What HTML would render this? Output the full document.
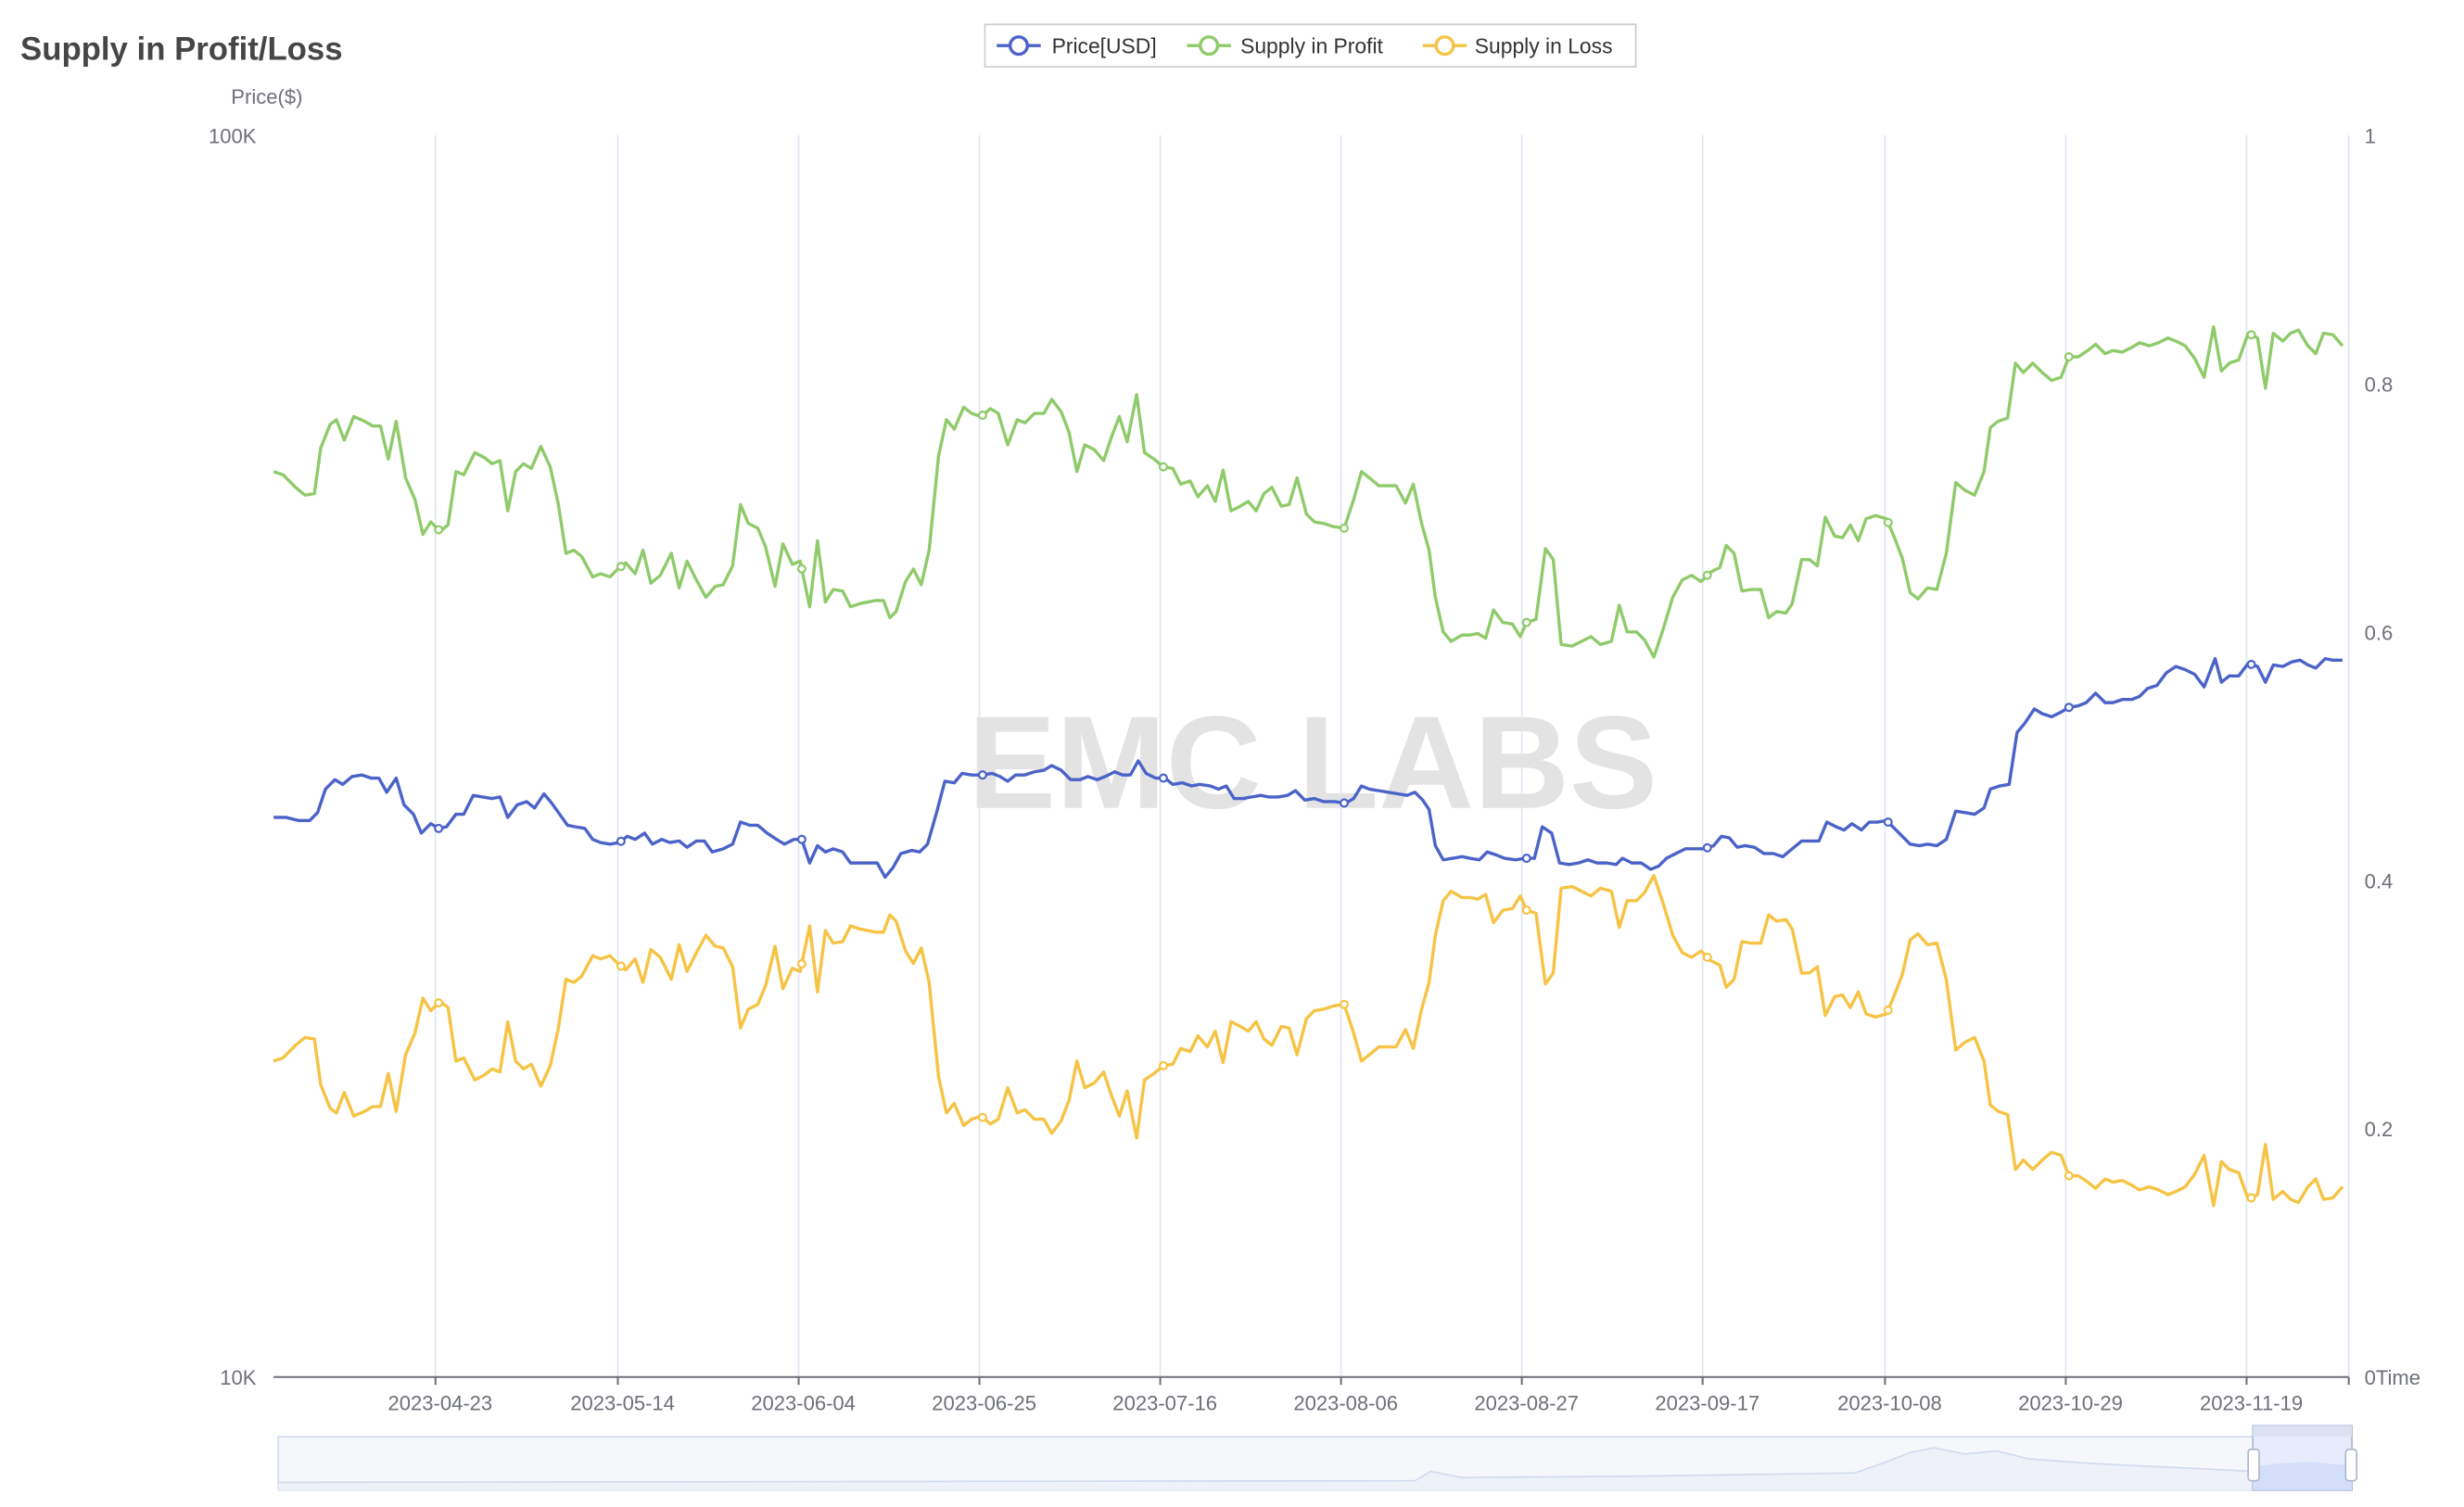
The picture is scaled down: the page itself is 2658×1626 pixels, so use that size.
<!DOCTYPE html>
<html><head><meta charset="utf-8"><style>
html,body{margin:0;padding:0;background:#fff;}
svg{display:block;font-family:"Liberation Sans",sans-serif;}
</style></head><body>
<svg id="s" width="2658" height="1626" viewBox="0 0 1567.3 958.7" preserveAspectRatio="none" xmlns="http://www.w3.org/2000/svg">
<rect width="1570" height="960" fill="#fff"/>
<text x="13" y="38" font-size="20.5" font-weight="bold" fill="#464646">Supply in Profit/Loss</text>
<text x="147" y="66" font-size="13" fill="#6e7079">Price($)</text>
<text x="163" y="91" font-size="13" fill="#6e7079" text-anchor="end">100K</text>
<text x="163" y="881" font-size="13" fill="#6e7079" text-anchor="end">10K</text>
<g font-size="13" fill="#6e7079">
<text x="1504" y="91">1</text><text x="1504" y="249">0.8</text><text x="1504" y="407">0.6</text>
<text x="1504" y="565">0.4</text><text x="1504" y="723">0.2</text><text x="1504" y="881">0Time</text>
</g>
<g id="grid" stroke="#e0e6f1" stroke-width="1"></g>
<text x="835" y="514" font-size="84" font-weight="bold" fill="#e3e3e3" text-anchor="middle">EMC LABS</text>
<line x1="174" y1="876" x2="1494" y2="876" stroke="#6e7079" stroke-width="1.2"/>
<g id="ticks" stroke="#6e7079" stroke-width="1.2"></g>
<g id="dl" font-size="13" fill="#6e7079" text-anchor="middle"></g>
<g id="series" fill="none" stroke-width="2" stroke-linejoin="round"></g>
<rect x="626.5" y="15.5" width="414" height="27" fill="#fff" stroke="#ccc"/>
<g stroke-width="2" fill="#fff">
<line x1="634" y1="29" x2="662" y2="29" stroke="#4b63c8"/><circle cx="648" cy="29" r="5.5" stroke="#4b63c8"/>
<line x1="755" y1="29" x2="783" y2="29" stroke="#8fcb6a"/><circle cx="769" cy="29" r="5.5" stroke="#8fcb6a"/>
<line x1="905" y1="29" x2="933" y2="29" stroke="#f6c344"/><circle cx="919" cy="29" r="5.5" stroke="#f6c344"/>
</g>
<g font-size="13.5" fill="#333">
<text x="669" y="34">Price[USD]</text><text x="789" y="34">Supply in Profit</text><text x="938" y="34">Supply in Loss</text>
</g>
<rect x="177" y="914" width="1319" height="34" fill="#f6f7fb" stroke="#d2dbee"/>
<path d="M177 943 L900 942 L910 936 L930 940 L1050 939 L1180 937 L1200 930 L1215 924 L1230 921 L1250 925 L1270 923 L1290 928 L1330 931 L1433 936 L1433 948 L177 948Z" fill="#eef1f8"/>
<path d="M177 943 L900 942 L910 936 L930 940 L1050 939 L1180 937 L1200 930 L1215 924 L1230 921 L1250 925 L1270 923 L1290 928 L1330 931 L1433 936" fill="none" stroke="#d2dbee"/>
<rect x="1433" y="907" width="63" height="41" fill="#e6ecfb" stroke="#acb8d1"/>
<rect x="1433" y="907" width="63" height="7" fill="#dbe2f2"/>
<path d="M1433 933 L1450 931 L1470 930 L1490 932 L1496 928 L1496 948 L1433 948Z" fill="#d3def8"/>
<rect x="1430" y="922" width="7" height="20" rx="2" fill="#fff" stroke="#acb8d1"/>
<rect x="1492" y="922" width="7" height="20" rx="2" fill="#fff" stroke="#acb8d1"/>
</svg>
<script>
const NS="http://www.w3.org/2000/svg";
function el(p,t,a){const e=document.createElementNS(NS,t);for(const k in a)e.setAttribute(k,a[k]);document.getElementById(p).appendChild(e);return e;}
const dates=[[277,"2023-04-23"],[393,"2023-05-14"],[508,"2023-06-04"],[623,"2023-06-25"],[738,"2023-07-16"],[853,"2023-08-06"],[968,"2023-08-27"],[1083,"2023-09-17"],[1199,"2023-10-08"],[1314,"2023-10-29"],[1429,"2023-11-19"],[1494,""]];
dates.forEach(d=>{el("grid","line",{x1:d[0],y1:86,x2:d[0],y2:876});el("ticks","line",{x1:d[0],y1:876,x2:d[0],y2:881});if(d[1]){const t=el("dl","text",{x:d[0]+3,y:897});t.textContent=d[1];}});
const g=[174,300,180,302,188,310,194,315,200,314,204,285,210,270,214,267,219,280,225,265,232,268,237,271,242,271,247,292,252,268,258,304,264,318,269,340,274,332,280,338,285,334,290,300,295,302,302,288,308,291,313,295,318,293,323,325,328,300,333,295,338,298,344,284,350,297,355,320,360,352,365,350,370,354,377,367,382,365,388,367,393,362,398,358,404,365,409,350,414,371,420,366,427,352,432,374,437,357,443,369,449,380,455,373,460,372,466,360,471,321,476,333,482,336,487,348,493,373,498,346,504,359,509,357,515,386,520,344,525,383,530,375,536,376,541,386,547,384,552,383,557,382,562,382,566,393,570,389,576,370,581,362,586,372,591,350,597,290,602,267,607,273,613,259,618,263,624,265,630,260,635,263,641,283,647,267,652,269,658,263,664,263,669,254,675,262,680,275,685,300,690,283,696,286,702,293,707,278,712,265,717,281,723,251,728,288,734,292,740,297,746,298,751,308,757,306,762,316,768,309,773,319,778,299,783,325,789,322,794,319,799,325,804,314,809,310,815,322,820,321,825,304,831,327,836,332,842,333,848,335,855,336,861,318,866,300,871,304,877,309,882,309,888,309,894,320,899,308,904,332,909,350,913,380,918,402,923,408,930,404,935,404,940,403,945,406,950,388,956,396,962,397,967,405,971,396,977,394,983,349,988,356,993,410,1000,411,1006,408,1012,405,1018,410,1025,408,1030,385,1035,402,1041,402,1046,407,1052,418,1058,400,1064,380,1070,369,1076,366,1082,370,1088,364,1094,361,1098,347,1103,352,1108,376,1114,375,1120,375,1125,393,1130,389,1136,390,1140,384,1146,356,1151,356,1156,360,1161,329,1167,341,1172,342,1177,334,1182,344,1187,330,1193,328,1200,330,1205,342,1210,355,1215,377,1220,381,1226,374,1232,375,1238,352,1244,307,1250,312,1256,315,1262,300,1266,272,1271,268,1277,266,1282,231,1287,237,1293,231,1299,237,1305,242,1311,240,1316,227,1322,227,1328,223,1333,219,1339,225,1344,223,1350,224,1356,221,1361,218,1367,220,1373,218,1379,215,1384,217,1390,220,1396,228,1402,240,1408,208,1413,236,1418,231,1424,229,1430,212,1436,215,1441,247,1446,212,1452,217,1457,212,1462,210,1468,220,1473,225,1478,212,1484,213,1490,220];
const b=[174,520,182,520,190,522,197,522,202,517,207,502,213,496,218,499,224,494,230,493,236,495,241,495,246,504,252,495,257,512,263,518,268,530,274,524,279,527,284,526,290,518,295,518,301,506,307,507,313,508,318,507,323,520,329,512,335,510,340,514,346,505,351,511,356,518,361,525,366,526,372,527,377,534,382,536,388,537,394,536,399,532,404,534,410,530,415,537,421,534,426,536,432,535,437,539,443,535,448,535,453,542,460,540,466,537,471,523,477,525,482,525,488,530,494,534,499,537,505,534,510,534,515,549,520,538,525,542,530,540,536,542,541,549,547,549,553,549,558,549,563,558,568,552,573,543,580,541,585,542,590,537,596,516,601,497,607,498,612,492,618,493,625,493,631,492,636,494,641,497,646,493,652,493,658,491,664,490,669,487,675,490,681,496,687,496,692,494,698,496,703,494,709,491,714,493,719,493,724,484,729,492,735,495,741,495,746,499,752,498,758,500,763,499,770,500,775,502,780,500,785,508,791,508,796,507,802,506,807,507,813,507,819,506,824,503,830,509,836,508,842,510,849,510,856,511,861,508,866,500,871,502,877,503,883,504,889,505,895,506,900,504,905,509,909,515,913,538,918,547,924,546,930,545,935,546,941,547,946,542,952,544,957,546,964,547,970,546,976,546,981,526,987,530,992,549,998,550,1004,549,1010,547,1016,549,1022,549,1028,550,1032,546,1038,549,1044,549,1050,553,1055,551,1060,546,1066,543,1072,540,1078,540,1084,540,1090,538,1095,532,1100,533,1105,539,1110,538,1116,539,1122,543,1128,543,1134,545,1140,540,1146,535,1152,535,1157,535,1162,523,1168,526,1173,528,1178,524,1184,528,1189,523,1194,523,1200,522,1205,527,1210,532,1215,537,1221,538,1226,537,1232,538,1238,534,1244,516,1250,517,1256,518,1262,514,1266,502,1272,500,1278,499,1283,466,1288,460,1294,451,1299,454,1305,456,1311,453,1316,450,1322,449,1327,447,1333,441,1339,447,1344,447,1350,445,1356,445,1361,443,1366,438,1372,436,1378,428,1384,424,1390,426,1396,429,1402,437,1409,419,1413,434,1418,430,1424,430,1430,422,1436,424,1441,434,1446,423,1452,424,1458,421,1463,420,1468,423,1473,425,1479,419,1484,420,1490,420];
const y=[];for(let i=0;i<g.length;i+=2){y.push(g[i],975-g[i+1]);}
function interp(a,x){for(let i=0;i<a.length-2;i+=2){if(a[i]<=x&&a[i+2]>=x){const t=(x-a[i])/(a[i+2]-a[i]);return a[i+1]+t*(a[i+3]-a[i+1]);}}return a[a.length-1];}
[[y,"#f6c344"],[g,"#8fcb6a"],[b,"#4b63c8"]].forEach(([a,c])=>{
let p="";for(let i=0;i<a.length;i+=2)p+=a[i]+","+a[i+1]+" ";
el("series","polyline",{points:p,stroke:c});
[279,395,510,625,740,855,971,1086,1201,1316,1432].forEach(x=>el("series","circle",{cx:x,cy:interp(a,x),r:2.3,fill:"#fff",stroke:c,"stroke-width":1.3}));
});
</script>
</body></html>
